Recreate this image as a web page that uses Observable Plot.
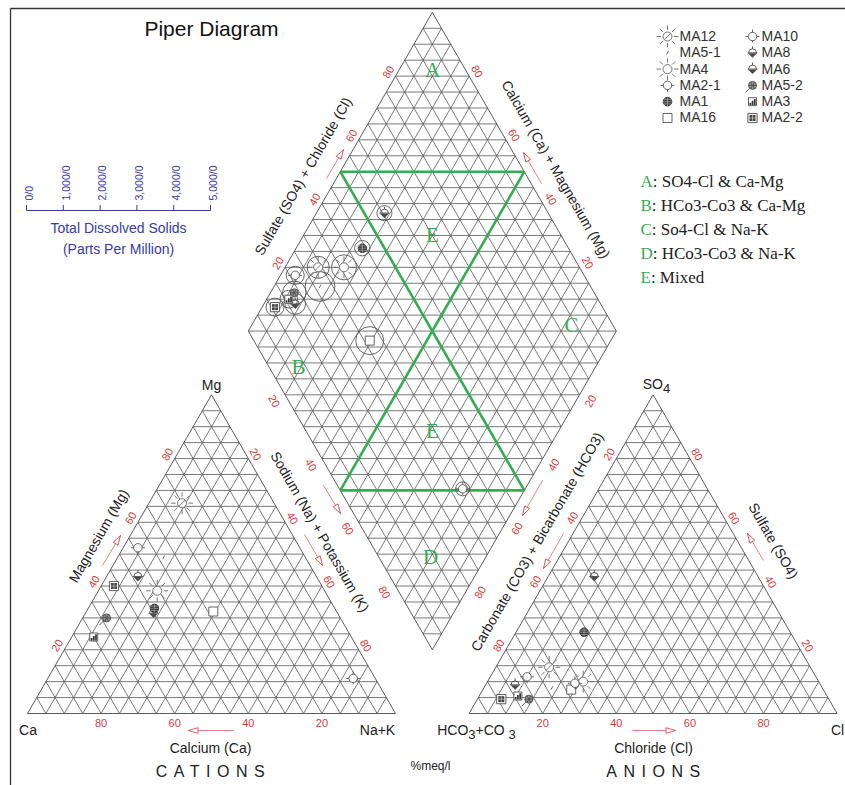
<!DOCTYPE html>
<html>
<head>
<meta charset="utf-8">
<script src="https://cdn.jsdelivr.net/npm/d3@7"></script>
<script src="https://cdn.jsdelivr.net/npm/@observablehq/plot@0.6"></script>
<style>
  body { margin: 0; background: #fff; }
  #chart { width: 845px; height: 785px; }
</style>
</head>
<body>
<div id="chart"></div>
<script>
// ---- Sample chemistry (% meq/l) ----
const samples   = ["MA12", "MA5-1", "MA4", "MA2-1", "MA1", "MA16", "MA10", "MA8", "MA6", "MA5-2", "MA3", "MA2-2"];
const cationMg  = [66, 49, 38.5, 52, 33, 32, 11, 43, 31.5, 30, 24, 40];
const cationNaK = [9, 12.5, 16, 4, 18, 34.5, 83, 8.5, 18.5, 6.5, 6, 3.5];
const anionSO4  = [14.5, 8, 10, 11.5, 25.5, 7.5, 9.5, 9, 43, 4.5, 5.5, 4.5];
const anionCl   = [14.5, 18.5, 26, 10, 18.5, 24, 24, 8, 12.5, 14, 10.5, 6.5];
const tds       = [600, 810, 680, 490, 420, 760, 380, 560, 410, 640, 480, 490];

// ---- Axis / legend text ----
const edgeTicks = [20, 40, 60, 80];
const tdsTicks = [0, 1000, 2000, 3000, 4000, 5000];
const tdsTickLabels = ["0/0", "1,000/0", "2,000/0", "3,000/0", "4,000/0", "5,000/0"];
const zoneKeys = ["A", "B", "C", "D", "E"];
const zoneNames = ["SO4-Cl & Ca-Mg", "HCo3-Co3 & Ca-Mg", "So4-Cl & Na-K", "HCo3-Co3 & Na-K", "Mixed"];

// ---- Layout: one unit = one triangle side ----
const W = 845, HT = 785, S = 368, OX = 27, OY = 713;
const ux = px => (px - OX) / S;
const uy = py => (OY - py) / S;
const H = Math.sqrt(3) / 2, G = 0.2;
const cat = (mg, nak) => [nak / 100 + mg / 200, H * mg / 100];
const an = (so4, cl) => [1 + G + cl / 100 + so4 / 200, H * so4 / 100];
const dia = (p, q) => [0.5 + G / 2 + 0.5 * (p + q), H * (1 + G) + H * (q - p)];
const seg = (a, b) => ({x1: a[0], y1: a[1], x2: b[0], y2: b[1]});

// 5% grid in both triangles and the diamond
const grid = [];
for (let k = 1; k < 20; k++) {
  const t = k * 5, f = t / 100;
  grid.push(seg(cat(t, 0), cat(t, 100 - t)));
  grid.push(seg(cat(0, 100 - t), cat(100 - t, 0)));
  grid.push(seg(cat(0, t), cat(100 - t, t)));
  grid.push(seg(an(t, 0), an(t, 100 - t)));
  grid.push(seg(an(0, 100 - t), an(100 - t, 0)));
  grid.push(seg(an(0, t), an(100 - t, t)));
  grid.push(seg(dia(f, 0), dia(f, 1)));
  grid.push(seg(dia(0, f), dia(1, f)));
  grid.push(seg(dia(0, f), dia(1 - f, 1)));
  grid.push(seg(dia(f, 0), dia(1, 1 - f)));
}
grid.push(seg(dia(0, 0), dia(1, 1)));
const outline = [
  seg(cat(0, 0), cat(0, 100)), seg(cat(0, 100), cat(100, 0)), seg(cat(100, 0), cat(0, 0)),
  seg(an(0, 0), an(0, 100)), seg(an(0, 100), an(100, 0)), seg(an(100, 0), an(0, 0)),
  seg(dia(0, 0), dia(0, 1)), seg(dia(0, 1), dia(1, 1)), seg(dia(1, 1), dia(1, 0)), seg(dia(1, 0), dia(0, 0))
];
// hydrochemical facies boundaries
const zoneLines = [
  seg(dia(0, 0.5), dia(1, 0.5)), seg(dia(0.5, 0), dia(0.5, 1)),
  seg(dia(0, 0.5), dia(0.5, 1)), seg(dia(0.5, 0), dia(1, 0.5))
];

// edge tick labels, offset outward from each edge
const tickLabels = [];
const addEdge = (pt, nx, ny, d, rotate) => edgeTicks.forEach(v => {
  const [x, y] = pt(v);
  tickLabels.push({x: x + nx * d / S, y: y + ny * d / S, text: String(v), rotate});
});
addEdge(v => cat(0, 100 - v), 0, -1, 10, 0);
addEdge(v => cat(v, 0), -H, 0.5, 8, -60);
addEdge(v => cat(100 - v, v), H, 0.5, 8, 60);
addEdge(v => an(0, v), 0, -1, 10, 0);
addEdge(v => an(100 - v, 0), -H, 0.5, 8, -60);
addEdge(v => an(v, 100 - v), H, 0.5, 8, 60);
addEdge(v => dia(0, v / 100), -H, 0.5, 8, -60);
addEdge(v => dia(1 - v / 100, 1), H, 0.5, 9, 60);
addEdge(v => dia(v / 100, 0), -H, -0.5, 13, 60);
addEdge(v => dia(1, 1 - v / 100), H, -0.5, 13, -60);

const axisTitles = [
  {px: 98.5, py: 535.5, r: -60, text: "Magnesium (Mg)"},
  {px: 319, py: 531.5, r: 60, text: "Sodium (Na) + Potassium (K)"},
  {px: 210, py: 748, r: 0, text: "Calcium (Ca)"},
  {px: 537, py: 541.5, r: -60, text: "Carbonate (CO3) + Bicarbonate (HCO3)"},
  {px: 772.5, py: 540.5, r: 60, text: "Sulfate (SO4)"},
  {px: 653, py: 748, r: 0, text: "Chloride (Cl)"},
  {px: 303, py: 176, r: -60, text: "Sulfate (SO4) + Chloride (Cl)"},
  {px: 555, py: 169, r: 60, text: "Calcium (Ca) + Magnesium (Mg)"}
];
const vertexLabels = [
  {px: 211, py: 385, text: "Mg"}, {px: 27.5, py: 730, text: "Ca"}, {px: 377, py: 730, text: "Na+K"},
  {px: 656, py: 384, text: "SO4"}, {px: 476, py: 730, text: "HCO3+CO 3"}, {px: 837, py: 730, text: "Cl"}
];
const arrows = [
  [102, 565, 120, 535], [304, 534, 322, 565], [233, 730, 188, 730],
  [563, 533, 543, 568], [763, 560, 747, 533], [632, 730, 675, 730],
  [323, 485, 340, 513], [542, 480, 522, 515], [326, 178, 343, 149], [541, 183, 523, 152]
].map(([x1, y1, x2, y2]) => {
  const len = Math.hypot(x2 - x1, y2 - y1), r = 5;
  const hx = x2 - (x2 - x1) / len * r, hy = y2 - (y2 - y1) / len * r;
  return {x1: ux(x1), y1: uy(y1), x2: ux(x2), y2: uy(y2), hx: ux(hx), hy: uy(hy),
          angle: Math.atan2(x2 - x1, -(y2 - y1)) * 180 / Math.PI};
});
const zoneLetters = [
  {px: 432, py: 70, text: "A"}, {px: 298, py: 367, text: "B"}, {px: 571, py: 325, text: "C"},
  {px: 430, py: 557, text: "D"}, {px: 432, py: 235, text: "E"}, {px: 432, py: 431, text: "E"}
];

// ---- Point symbols ----
const symbol = fn => ({draw(ctx, size) { fn(ctx, Math.sqrt(size / Math.PI) / 10); }});
const ring = (ctx, r) => { ctx.moveTo(r, 0); ctx.arc(0, 0, r, 0, 2 * Math.PI); };
const line = (ctx, x1, y1, x2, y2) => { ctx.moveTo(x1, y1); ctx.lineTo(x2, y2); };
const rays = (ctx, s, n, r0, r1) => {
  for (let i = 0; i < n; i++) {
    const a = i * 2 * Math.PI / n;
    line(ctx, r0 * s * Math.cos(a), r0 * s * Math.sin(a), r1 * s * Math.cos(a), r1 * s * Math.sin(a));
  }
};
const sun = symbol((c, s) => { ring(c, 4.5 * s); rays(c, s, 8, 6.5, 11); });
const sunSlash = symbol((c, s) => { ring(c, 4.5 * s); rays(c, s, 8, 6.5, 11); line(c, -3.2 * s, 3.2 * s, 3.2 * s, -3.2 * s); });
const slash = symbol((c, s) => line(c, -1 * s, 1.8 * s, 1 * s, -1.8 * s));
const ringTicks3 = symbol((c, s) => { ring(c, 4.2 * s); line(c, -4.2 * s, 0, -7 * s, 0); line(c, 4.2 * s, 0, 7 * s, 0); line(c, 0, 4.2 * s, 0, 6.5 * s); });
const ringTicks4 = symbol((c, s) => { ring(c, 4.2 * s); line(c, -4.2 * s, 0, -7 * s, 0); line(c, 4.2 * s, 0, 7 * s, 0); line(c, 0, -4.2 * s, 0, -7 * s); line(c, 0, 4.2 * s, 0, 6 * s); });
const disc = symbol((c, s) => ring(c, 4.3 * s));
const globeLines = symbol((c, s) => { line(c, -4.3 * s, 0, 4.3 * s, 0); line(c, 0, -4.3 * s, 0, 4.3 * s); line(c, -3.6 * s, -2.2 * s, 3.6 * s, -2.2 * s); line(c, -3.6 * s, 2.2 * s, 3.6 * s, 2.2 * s); });
const square = symbol((c, s) => c.rect(-4.5 * s, -4.5 * s, 9 * s, 9 * s));
const topOutline = symbol((c, s) => { line(c, -5 * s, 0, 5 * s, 0); c.moveTo(-4 * s, 0); c.arc(0, 0, 4 * s, Math.PI, 2 * Math.PI); line(c, 0, -4 * s, 0, -6.5 * s); });
const topFill = symbol((c, s) => { c.moveTo(-4.5 * s, 0.4 * s); c.lineTo(4.5 * s, 0.4 * s); c.lineTo(0, 5 * s); c.closePath(); });
const starDisc = symbol((c, s) => { ring(c, 4 * s); rays(c, s, 6, 0, 4); line(c, -3 * s, 3 * s, -7 * s, 7 * s); });
const frame8 = symbol((c, s) => c.rect(-4 * s, -4 * s, 8 * s, 8 * s));
const bars = symbol((c, s) => { c.rect(-3 * s, 1 * s, 1.7 * s, 2.4 * s); c.rect(-0.8 * s, -1 * s, 1.7 * s, 4.4 * s); c.rect(1.4 * s, -2.8 * s, 1.7 * s, 6.2 * s); });
const frame9 = symbol((c, s) => c.rect(-4.6 * s, -4.6 * s, 9.2 * s, 9.2 * s));
const innerBox = symbol((c, s) => c.rect(-3 * s, -3 * s, 6 * s, 6 * s));
const innerCross = symbol((c, s) => { line(c, -3 * s, 0, 3 * s, 0); line(c, 0, -3 * s, 0, 3 * s); });

const grey = "#4a4a4a";
const layers = {
  "MA12": [{sym: sunSlash, fill: "white", stroke: "#666"}],
  "MA5-1": [{sym: slash, fill: "none", stroke: "#555"}],
  "MA4": [{sym: sun, fill: "white", stroke: "#666"}],
  "MA2-1": [{sym: ringTicks3, fill: "white", stroke: "#555"}],
  "MA1": [{sym: disc, fill: "#3a3a3a", stroke: "#333"}, {sym: globeLines, fill: "none", stroke: "#bbb", sw: 0.6}],
  "MA16": [{sym: square, fill: "white", stroke: "#555"}],
  "MA10": [{sym: ringTicks4, fill: "white", stroke: "#555"}],
  "MA8": [{sym: topOutline, fill: "none", stroke: grey}, {sym: topFill, fill: grey, stroke: "none"}],
  "MA6": [{sym: topOutline, fill: "none", stroke: grey}, {sym: topFill, fill: grey, stroke: "none"}],
  "MA5-2": [{sym: starDisc, fill: "#999", stroke: grey}],
  "MA3": [{sym: frame8, fill: "white", stroke: grey}, {sym: bars, fill: "#333", stroke: "none"}],
  "MA2-2": [{sym: frame9, fill: "white", stroke: grey}, {sym: innerBox, fill: "#444", stroke: "none"}, {sym: innerCross, fill: "none", stroke: "#ccc", sw: 0.7}]
};

const rows = samples.map((sample, i) => {
  const [cx, cy] = cat(cationMg[i], cationNaK[i]);
  const [ax, ay] = an(anionSO4[i], anionCl[i]);
  const [dx, dy] = dia(cationNaK[i] / 100, (anionSO4[i] + anionCl[i]) / 100);
  return {sample, cx, cy, ax, ay, dx, dy, tds: tds[i],
          lx: ux(i < 6 ? 667 : 752), tx: ux(i < 6 ? 679 : 761), ly: uy(36 + (i % 6) * 16.3)};
});

const symbolMarks = [];
for (const name of samples) {
  const subset = rows.filter(d => d.sample === name);
  for (const [xk, yk] of [["cx", "cy"], ["ax", "ay"], ["dx", "dy"], ["lx", "ly"]]) {
    for (const L of layers[name]) {
      symbolMarks.push(Plot.dot(subset, {x: xk, y: yk, symbol: L.sym, r: 10, fill: L.fill, stroke: L.stroke, strokeWidth: L.sw ?? 0.9}));
    }
  }
}

// TDS scale bar: same px-per-ppm as the circle diameters
const rMax = 92, tdsMax = 5000;
const tdsPx = v => 26 + v * 2 * rMax / tdsMax;

const red = "#d43c3c", green = "#34ad52", navy = "#3a3aa6";
const sans = "Liberation Sans, Arial, sans-serif", serif = "Liberation Serif, Times New Roman, serif";

const svg = Plot.plot({
  width: W, height: HT, margin: 0,
  style: {fontFamily: sans, background: "white", overflow: "visible"},
  x: {domain: [ux(0), ux(W)], axis: null},
  y: {domain: [uy(HT), uy(0)], axis: null},
  r: {type: "linear", domain: [0, tdsMax], range: [0, rMax]},
  marks: [
    // frame
    Plot.link([{x1: ux(10), y1: uy(8), x2: ux(W), y2: uy(8)}, {x1: ux(10), y1: uy(8), x2: ux(10), y2: uy(HT)}],
      {x1: "x1", y1: "y1", x2: "x2", y2: "y2", stroke: "#333", strokeWidth: 1.3}),
    Plot.text(["Piper Diagram"], {x: ux(211), y: uy(28.5), text: d => d, fontSize: 21, fill: "#111"}),
    // grid
    Plot.link(grid, {x1: "x1", y1: "y1", x2: "x2", y2: "y2", stroke: "#585858", strokeWidth: 0.8}),
    Plot.link(outline, {x1: "x1", y1: "y1", x2: "x2", y2: "y2", stroke: "#4a4a4a", strokeWidth: 0.9}),
    Plot.link(zoneLines, {x1: "x1", y1: "y1", x2: "x2", y2: "y2", stroke: green, strokeWidth: 2.6}),
    Plot.text(zoneLetters, {x: d => ux(d.px), y: d => uy(d.py), text: "text", fill: green, fontSize: 21, fontFamily: serif}),
    // edge ticks and titles
    Plot.text(tickLabels, {x: "x", y: "y", text: "text", rotate: "rotate", fill: red, fontSize: 11}),
    Plot.text(axisTitles, {x: d => ux(d.px), y: d => uy(d.py), text: "text", rotate: "r", fontSize: 14, fill: "#222"}),
    Plot.text(vertexLabels, {x: d => ux(d.px), y: d => uy(d.py), text: "text", fontSize: 14, fill: "#222"}),
    Plot.text(["CATIONS", "ANIONS"], {x: d => ux(d === "CATIONS" ? 213 : 656), y: uy(771), text: d => d, fontSize: 16, fill: "#222"}),
    Plot.text(["%meq/l"], {x: ux(430), y: uy(766), text: d => d, fontSize: 12, fill: "#222"}),
    // arrows
    Plot.link(arrows, {x1: "x1", y1: "y1", x2: "x2", y2: "y2", stroke: red, strokeWidth: 0.8, strokeOpacity: 0.8}),
    Plot.dot(arrows, {x: "hx", y: "hy", rotate: "angle", r: 10,
      symbol: symbol((c, s) => { c.moveTo(0, -5 * s); c.lineTo(2.8 * s, 4.5 * s); c.lineTo(-2.8 * s, 4.5 * s); c.closePath(); }),
      fill: "white", stroke: red, strokeWidth: 0.8}),
    // TDS scale
    Plot.link([{a: 0, b: tdsMax}], {x1: d => ux(tdsPx(d.a)), x2: d => ux(tdsPx(d.b)), y1: uy(210), y2: uy(210), stroke: navy, strokeWidth: 1}),
    Plot.link(tdsTicks, {x1: d => ux(tdsPx(d)), x2: d => ux(tdsPx(d)), y1: uy(210), y2: uy(204.5), stroke: navy, strokeWidth: 1}),
    Plot.text(tdsTicks, {x: d => ux(tdsPx(d) + 3), y: uy(200), text: (d, i) => tdsTickLabels[i], rotate: -90, textAnchor: "start", fontSize: 10.5, fill: navy}),
    Plot.text(["Total Dissolved Solids", "(Parts Per Million)"], {x: ux(118), y: (d, i) => uy(228 + i * 21.5), text: d => d, fontSize: 14, fill: navy}),
    // TDS circles in the diamond
    Plot.dot(rows, {x: "dx", y: "dy", r: "tds", fill: "none", stroke: "#555", strokeWidth: 0.9}),
    // sample symbols
    ...symbolMarks,
    Plot.text(rows, {x: "tx", y: "ly", text: "sample", textAnchor: "start", fontSize: 14, fill: "#333"}),
    // facies key
    Plot.text(zoneKeys, {x: ux(640), y: (d, i) => uy(181 + i * 24), text: (d, i) => `${d}: ${zoneNames[i]}`,
      textAnchor: "start", fontSize: 17, fontFamily: serif, fill: "#222"})
  ]
});

// colour the facies letters, add subscripts and letter spacing
const root = d3.select(svg);
root.selectAll("text").each(function () {
  const t = this.textContent;
  const el = d3.select(this);
  if (/^[A-E]: /.test(t)) {
    this.textContent = "";
    el.append("tspan").attr("fill", green).text(t[0]);
    el.append("tspan").text(t.slice(1));
  } else if (t === "SO4" || t === "HCO3+CO 3") {
    this.textContent = "";
    let low = false;
    for (const part of t.match(/\d+|\D+/g)) {
      const isDigit = /^\d+$/.test(part);
      const span = el.append("tspan").text(part);
      if (isDigit && !low) { span.attr("dy", 4).attr("font-size", 13); low = true; }
      else if (!isDigit && low) { span.attr("dy", -4); low = false; }
    }
  } else if (t === "CATIONS" || t === "ANIONS") {
    el.attr("letter-spacing", 6.5);
  }
});
document.getElementById("chart").append(svg);
</script>
</body>
</html>
